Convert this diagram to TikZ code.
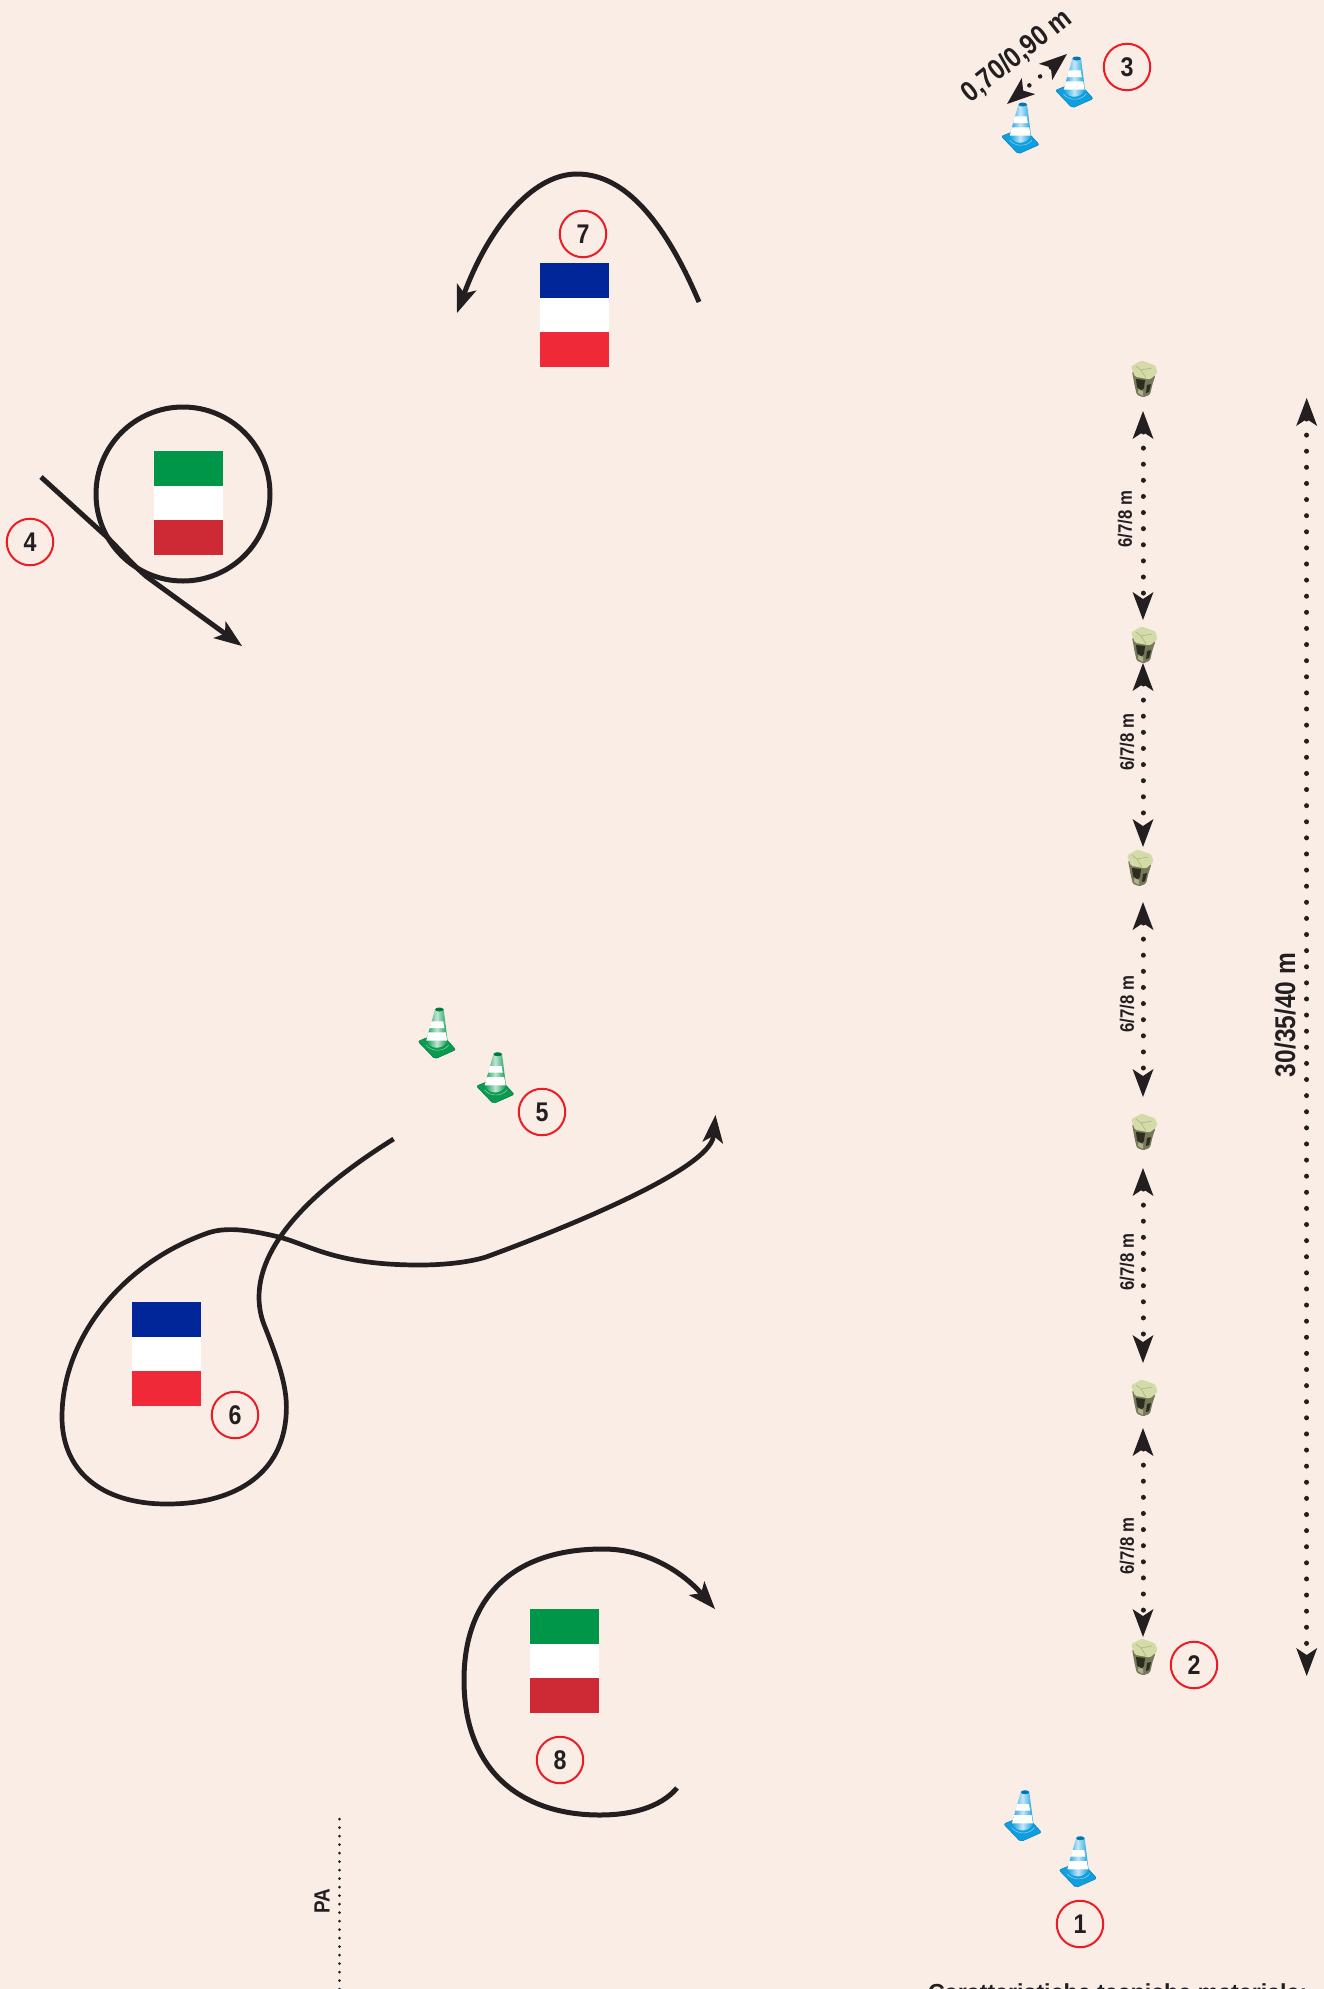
\documentclass[tikz,border=0pt]{standalone}
\usepackage{fontspec}
\setmainfont{Liberation Sans}
\newfontfamily\cnd[FakeStretch=0.86]{Liberation Sans}
\usetikzlibrary{arrows.meta}
\definecolor{bgc}{HTML}{FAEDE6}
\definecolor{ink}{HTML}{231F20}
\definecolor{numred}{HTML}{ED1C24}
\definecolor{frblue}{HTML}{00269A}
\definecolor{frred}{HTML}{EF2938}
\definecolor{itgreen}{HTML}{00964A}
\definecolor{itred}{HTML}{CD2A36}
\definecolor{conebl}{HTML}{0F9FDF}
\definecolor{conebld}{HTML}{0078B4}
\definecolor{conegr}{HTML}{0A9A50}
\definecolor{conegrd}{HTML}{007A3D}
\definecolor{stumptop}{HTML}{D3DBA8}
\definecolor{stumpedge}{HTML}{A8AD78}
\definecolor{stumpbody}{HTML}{77785A}
\definecolor{stumpdark}{HTML}{2C2D20}
\definecolor{stumppale}{HTML}{AEB28C}
\tikzset{
  x=1pt,y=-1pt,
  tipb/.tip={Stealth[length=28pt,width=21pt,inset=7pt,line width=0pt]},
  route/.style={draw=ink,line width=5pt,line join=round},
  dotline/.style={draw=ink,line width=5pt,line cap=round,dash pattern=on 0.01pt off 16.1pt},
  numnode/.style={circle,draw=numred,line width=2pt,minimum size=46.5pt,inner sep=0pt,text=ink,font=\cnd\bfseries\fontsize{27}{27}\selectfont},
  dimsmall/.style={text=ink,rotate=90,inner sep=0pt,font=\cnd\bfseries\fontsize{19.5}{20}\selectfont},
  dimbig/.style={text=ink,inner sep=0pt,font=\cnd\bfseries\fontsize{28.5}{29}\selectfont},
  pics/flag/.style 2 args={code={
    \fill[#1] (0,0) rectangle (69,34.5);
    \fill[white] (0,34.5) rectangle (69,69);
    \fill[#2] (0,69) rectangle (69,104);
  }},
  pics/cone/.style 2 args={code={
    \fill[#1,draw=#2,line width=0.4pt,rounded corners=2pt] (-18.7,-1.7) -- (-8,-6) -- (7.7,-6) -- (19.3,6.7) -- (-1.7,16) -- cycle;
    \shade[left color=#1,right color=#1,middle color=white!75!#1] (-10.5,-2) -- (-1.5,-34) -- (7,-34) -- (11,-2)
       .. controls (6,7) and (-6,7) .. (-10.5,-2) -- cycle;
    \fill[white] (-5.3,-21.7) -- (6.6,-21.7) -- (7.8,-15) -- (-6.8,-15) -- cycle;
    \fill[white] (-8.2,-10.7) -- (9.2,-10.7) -- (10.6,-2.3) -- (-10.3,-2.3) -- cycle;
    \fill[#2] (2.7,-33.5) ellipse (4.2 and 2);
    \draw[white!55!#1,line width=0.5pt] (-10.5,2) .. controls (-5,9) and (7,9) .. (12,2);
  }},
  pics/stump/.style={code={
    \fill[stumpbody,rounded corners=1.5pt] (-12,-8) -- (-9.5,6) -- (-7.3,15.7) -- (-0.7,18.3) -- (6,15.7) -- (8.5,5) -- (11.5,-4) -- cycle;
    \fill[stumpdark] (-8,0) -- (1,1) -- (0,9) -- (-3,12) -- (-7,8) -- cycle;
    \fill[stumpdark] (3,6) -- (7,5) -- (5,13) -- (2,14) -- cycle;
    \fill[stumppale] (-5.5,10) -- (-1,12) -- (-1,17) -- (-6,14) -- cycle;
    \fill[stumptop,rounded corners=1.5pt] (-13,-12.7) -- (-2.3,-18.5) -- (11.5,-13.5) -- (13.5,-6) -- (6,0.5) -- (-9,-2.2) -- cycle;
    \draw[stumpedge,line width=0.5pt] (-3,-9) -- (-8,-13) (-3,-9) -- (8,-11) (-3,-9) -- (2,-1);
  }},
}
\begin{document}
\begin{tikzpicture}
\useasboundingbox (0,0) rectangle (1324,1989);
\clip (0,0) rectangle (1324,1989);
\fill[bgc] (0,0) rectangle (1324,1989);

% flags
\pic at (540,263) {flag={frblue}{frred}};
\pic at (154,451) {flag={itgreen}{itred}};
\pic at (132,1302) {flag={frblue}{frred}};
\pic at (530,1609) {flag={itgreen}{itred}};

% cones
\pic at (1020,138) {cone={conebl}{conebld}};
\pic at (1074,92) {cone={conebl}{conebld}};
\pic at (1022.3,1825.7) {cone={conebl}{conebld}};
\pic at (1077.6,1871.7) {cone={conebl}{conebld}};
\pic at (436.6,1043) {cone={conegr}{conegrd}};
\pic at (495,1087.7) {cone={conegr}{conegrd}};

% stumps
\pic at (1144,379) {stump};
\pic at (1144,645) {stump};
\pic at (1140,868) {stump};
\pic at (1144,1132) {stump};
\pic at (1144,1398) {stump};
\pic at (1144,1657) {stump};

% routes
\draw[route,-{tipb}] (699,302) .. controls (665,222) and (625,174) .. (577,174) .. controls (530,174) and (487,232) .. (457,313);
\node[draw=ink,circle,line width=5pt,minimum size=174pt,inner sep=0pt] (loopfour) at (183,494) {};
\coordinate (fourstart) at (41,477);
\coordinate (fourend) at (242,646);
\draw[route,-{tipb}] (fourstart) -- (107,537) .. controls (120,550) and (133,565) .. (146.7,576.7) -- (fourend);
\draw[route,line width=4.7pt,-{tipb}] (393.6,1139) .. controls (320,1185) and (259,1240) .. (259,1297)
  .. controls (259,1310) and (262,1320) .. (265.4,1328)
  .. controls (278,1360) and (286.4,1385) .. (286.4,1407)
  .. controls (286.4,1470) and (240,1504) .. (167,1504)
  .. controls (100,1504) and (62,1470) .. (62,1417)
  .. controls (62,1340) and (120,1265) .. (205,1234)
  .. controls (225,1226) and (250,1230) .. (279,1237)
  .. controls (310,1245) and (335,1265) .. (419.5,1265)
  .. controls (445,1265) and (470,1262) .. (486,1257)
  .. controls (560,1230) and (710,1170) .. (715.5,1115);
\draw[route,-{tipb}] (677,1788) .. controls (660,1808) and (630,1815) .. (600,1815)
  .. controls (520,1815) and (464,1770) .. (464,1680)
  .. controls (464,1600) and (510,1549) .. (603,1549)
  .. controls (650,1549) and (685,1575) .. (715,1609);

% dimension lines
\coordinate (bigt) at (1306.7,398);
\coordinate (bigb) at (1306.7,1676);
\draw[dotline,{tipb}-{tipb}] (bigt) -- (bigb);
\foreach \a/\b in {411/620,663/847,902/1097,1168/1363,1428/1637}{
  \coordinate (st) at (1143,\a);
  \coordinate (sb) at (1143,\b);
  \draw[dotline,{tipb}-{tipb}] (st) -- (sb);
}
\coordinate (cont) at (1067,54);
\coordinate (conb) at (1007,104);
\draw[dotline,line width=4.5pt,dash pattern=on 0.01pt off 14pt,{tipb}-{tipb}] (cont) -- (conb);

\coordinate (pat) at (339,1819);
\coordinate (pab) at (339,1995);
\draw[draw=ink,line width=3pt,line cap=round,dash pattern=on 0.01pt off 8.5pt] (pat) -- (pab);

% labels
\node[dimsmall] (la) at (1125,519) {6/7/8 m};
\node[dimsmall] (lb) at (1127,742) {6/7/8 m};
\node[dimsmall] (lc) at (1127,1004) {6/7/8 m};
\node[dimsmall] (ld) at (1127,1262) {6/7/8 m};
\node[dimsmall] (le) at (1127,1546) {6/7/8 m};
\node[dimbig,rotate=90] (lbig) at (1285,1015) {30/35/40 m};
\node[dimbig,rotate=38.5] (lcon) at (1017,56) {0,70/0,90 m};
\node[dimsmall,font=\cnd\bfseries\fontsize{22}{22}\selectfont] (lpa) at (322,1901) {PA};
\node[anchor=base west,inner sep=0pt,text=ink,font=\bfseries\fontsize{23.2}{24}\selectfont] (ltitle) at (928,2000) {Caratteristiche tecniche materiale:};

% numbers
\node[numnode] (n1) at (1080,1924) {1};
\node[numnode] (n2) at (1194,1665) {2};
\node[numnode] (n3) at (1127,67) {3};
\node[numnode] (n4) at (30,542) {4};
\node[numnode] (n5) at (542,1112) {5};
\node[numnode] (n6) at (235,1415) {6};
\node[numnode] (n7) at (583,234) {7};
\node[numnode] (n8) at (560,1760) {8};
\end{tikzpicture}
\end{document}
